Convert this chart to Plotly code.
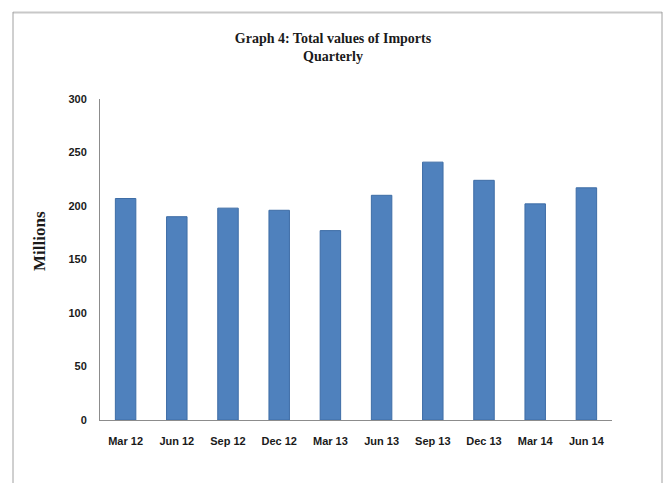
import plotly.graph_objects as go

quarters = ["Mar 12", "Jun 12", "Sep 12", "Dec 12", "Mar 13",
            "Jun 13", "Sep 13", "Dec 13", "Mar 14", "Jun 14"]
imports_millions = [207, 190, 198, 196, 177, 210, 241, 224, 202, 217]
y_ticks = [0, 50, 100, 150, 200, 250, 300]

W, H = 667, 483
L, R, T, B = 100, 55, 99, 63
pw = W - L - R
ph = H - T - B

def px(x):
    return (x - L) / pw

def py(y):
    return (H - B - y) / ph

fig = go.Figure()
fig.add_trace(go.Bar(
    x=quarters, y=imports_millions, width=0.4,
    marker=dict(color="#4F81BD", line=dict(color="#3E6DA6", width=1)),
    hoverinfo="x+y",
))

fig.update_layout(
    width=W, height=H,
    margin=dict(l=L, r=R, t=T, b=B),
    paper_bgcolor="white", plot_bgcolor="white",
    showlegend=False,
    title=dict(
        text="Graph 4: Total values of Imports<br>Quarterly",
        x=333 / W, xanchor="center",
        y=1 - 43 / H, yanchor="top",
        font=dict(family="Liberation Serif", size=14, color="#1a1a1a", weight="bold"),
    ),
    xaxis=dict(
        showline=True, linecolor="#8c8c8c", linewidth=1,
        showgrid=False, ticks="", ticklabelstandoff=11,
        tickfont=dict(family="Liberation Sans", size=11, color="#1a1a1a", weight="bold"),
    ),
    yaxis=dict(
        range=[0, 300], tickvals=y_ticks,
        showline=True, linecolor="#8c8c8c", linewidth=1,
        showgrid=False, zeroline=False, ticks="", ticklabelstandoff=10,
        tickfont=dict(family="Liberation Sans", size=11, color="#1a1a1a", weight="bold"),
    ),
    annotations=[dict(
        text="Millions", textangle=-90,
        x=px(39), y=py(241), xref="paper", yref="paper",
        xanchor="center", yanchor="middle", showarrow=False,
        font=dict(family="Liberation Serif", size=17, color="#1a1a1a", weight="bold"),
    )],
    shapes=[
        dict(type="line", xref="paper", yref="paper",
             x0=px(13), x1=px(662), y0=py(12.5), y1=py(12.5),
             line=dict(color="#c8c8c8", width=2)),
        dict(type="line", xref="paper", yref="paper",
             x0=px(13), x1=px(13), y0=py(12), y1=py(495),
             line=dict(color="#a0a0a0", width=1)),
        dict(type="line", xref="paper", yref="paper",
             x0=px(662), x1=px(662), y0=py(12), y1=py(495),
             line=dict(color="#a0a0a0", width=1)),
    ],
)

fig.write_html(
    "out.html",
    config={"displayModeBar": False},
    post_script="document.body.style.margin='0';document.body.style.padding='0';",
)
